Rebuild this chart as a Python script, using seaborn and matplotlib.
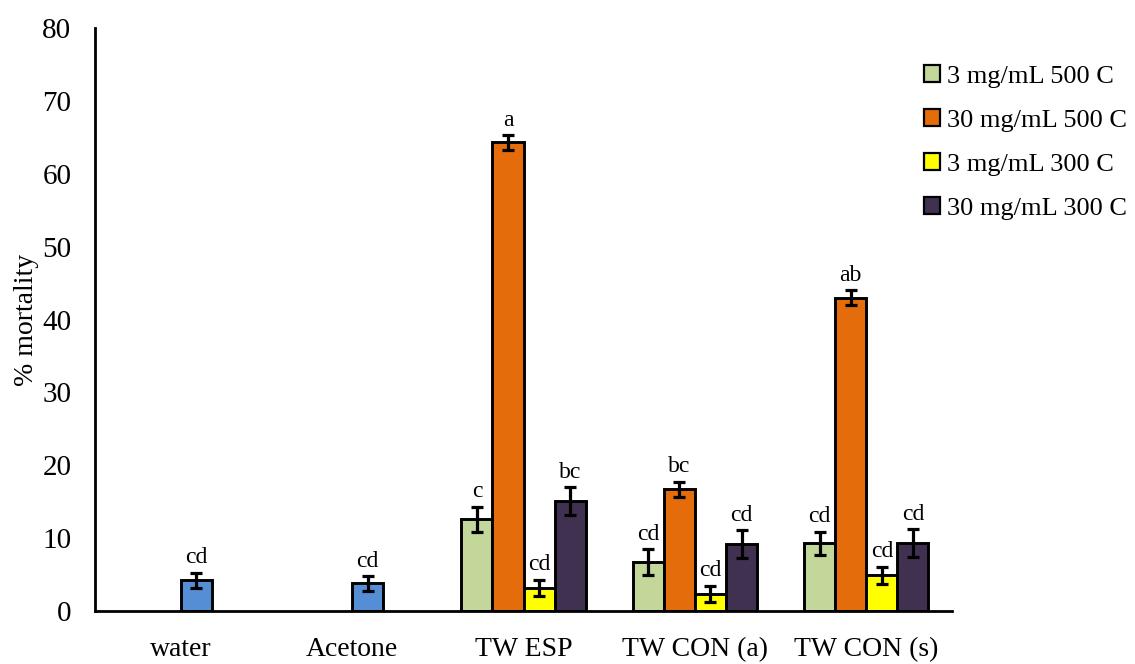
import matplotlib
matplotlib.use("Agg")
import matplotlib.pyplot as plt
from matplotlib.patches import Patch
import numpy as np
import pandas as pd
import seaborn as sns

categories = ["water", "Acetone", "TW ESP", "TW CON (a)", "TW CON (s)"]
series = ["3 mg/mL 500 C", "30 mg/mL 500 C", "3 mg/mL 300 C", "30 mg/mL 300 C"]
colors = ["#C4D79B", "#E46C0A", "#FFFF00", "#403151"]
control_color = "#558ED5"

# controls (water, acetone)
control_values = [4.2, 3.8]
control_err = [1.05, 1.0]
control_letters = ["cd", "cd"]

# treatments (TW ESP, TW CON (a), TW CON (s)) per series
v_3_500 = [12.6, 6.7, 9.3]
v_30_500 = [64.3, 16.7, 43.0]
v_3_300 = [3.2, 2.4, 4.9]
v_30_300 = [15.1, 9.2, 9.3]
e_3_500 = [1.7, 1.8, 1.6]
e_30_500 = [1.0, 1.05, 1.05]
e_3_300 = [1.1, 1.1, 1.2]
e_30_300 = [1.9, 1.9, 1.9]
l_3_500 = ["c", "cd", "cd"]
l_30_500 = ["a", "bc", "ab"]
l_3_300 = ["cd", "cd", "cd"]
l_30_300 = ["bc", "cd", "cd"]

yticks = [0, 10, 20, 30, 40, 50, 60, 70, 80]

treat_vals = [v_3_500, v_30_500, v_3_300, v_30_300]
treat_errs = [e_3_500, e_30_500, e_3_300, e_30_300]
treat_lets = [l_3_500, l_30_500, l_3_300, l_30_300]

rows = []
# controls drawn in the third slot (as in the original spreadsheet chart)
for c, v, e, l in zip(categories[:2], control_values, control_err, control_letters):
    rows.append(dict(cat=c, series=series[2], val=v, err=e, let=l, ctrl=True))
for s, vals, errs, lets in zip(series, treat_vals, treat_errs, treat_lets):
    for c, v, e, l in zip(categories[2:], vals, errs, lets):
        rows.append(dict(cat=c, series=s, val=v, err=e, let=l, ctrl=False))
df = pd.DataFrame(rows)

sns.set_theme(style="white")
plt.rcParams["font.family"] = ["Liberation Serif", "DejaVu Serif"]
plt.rcParams["text.color"] = "black"
plt.rcParams["axes.labelcolor"] = "black"
plt.rcParams["xtick.color"] = "black"
plt.rcParams["ytick.color"] = "black"

fig = plt.figure(figsize=(11.35, 6.64), dpi=100)
ax = fig.add_axes([0.0837, 0.0798, 0.7551, 0.878])

sns.barplot(data=df, x="cat", y="val", hue="series", order=categories,
            hue_order=series, palette=colors, width=0.725, dodge=True,
            edgecolor="black", linewidth=2.1, errorbar=None, legend=False,
            saturation=1, ax=ax)

bar_containers = list(ax.containers)

# attach error bars / letters using seaborn's bar geometry
for si, cont in enumerate(bar_containers):
    for bar in cont.patches:
        h = bar.get_height()
        if np.isnan(h) or h == 0:
            continue
        xc = bar.get_x() + bar.get_width() / 2
        ci = int(round(xc))
        sub = df[(df["cat"] == categories[ci]) & (df["series"] == series[si])]
        if sub.empty:
            continue
        r = sub.iloc[0]
        if r["ctrl"]:
            bar.set_facecolor(control_color)
        ax.errorbar(xc, r["val"], yerr=r["err"], fmt="none", ecolor="black",
                    elinewidth=2.3, capsize=4.2, capthick=2.3, zorder=5)
        ax.text(xc, r["val"] + r["err"] + 0.6, r["let"], ha="center",
                va="bottom", fontsize=17, color="black")

ax.set_xlim(-0.5, len(categories) - 0.5)
ax.set_ylim(0, 80)
ax.set_yticks(yticks)
ax.set_yticklabels([str(t) for t in yticks], fontsize=21, color="black")
ax.set_xticks(range(len(categories)))
ax.set_xticklabels(categories, fontsize=20, color="black")
ax.set_xticks(np.arange(-0.5, len(categories), 1.0), minor=True)
ax.tick_params(axis="x", which="major", length=0, pad=19, colors="black")
ax.tick_params(axis="x", which="minor", length=7, width=2, direction="out", colors="black")
ax.tick_params(axis="y", which="major", length=7, width=2, direction="out", colors="black", pad=10)
ax.set_xlabel("")
ax.set_ylabel("% mortality", fontsize=20, color="black")
ax.yaxis.set_label_coords(-0.0655, 0.5)
for sp in ["top", "right"]:
    ax.spines[sp].set_visible(False)
for sp in ["left", "bottom"]:
    ax.spines[sp].set_linewidth(2)
    ax.spines[sp].set_color("black")
ax.grid(False)

handles = [Patch(facecolor=c, edgecolor="black", linewidth=1.6, label=s)
           for c, s in zip(colors, series)]
fig.legend(handles=handles, loc="upper left", bbox_to_anchor=(0.805, 0.918),
           frameon=False, fontsize=19, handlelength=0.6, handleheight=0.6,
           handletextpad=0.25, labelspacing=0.81, borderaxespad=0,
           labelcolor="black")

fig.savefig("out.png", dpi=100, facecolor="white")
